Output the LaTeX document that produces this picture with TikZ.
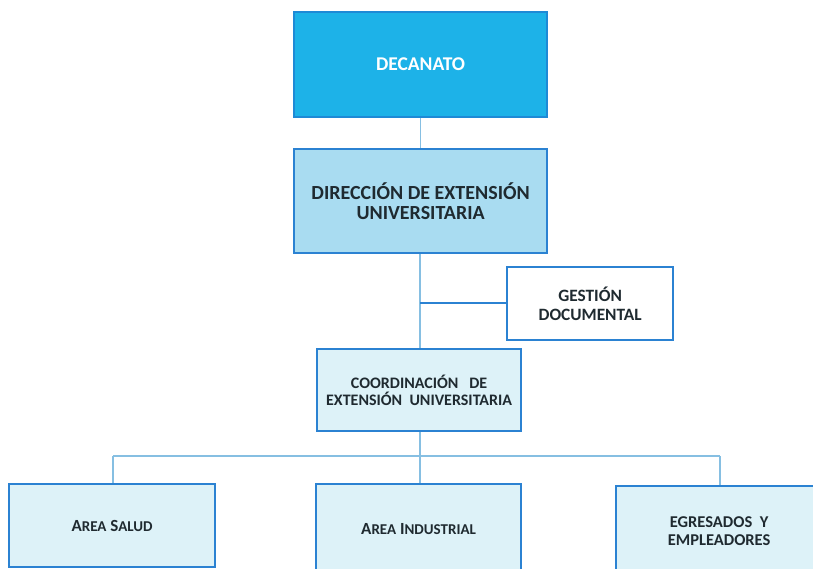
\documentclass[tikz,border=0pt]{standalone}
\usepackage{fontspec}
\setmainfont{Carlito}
\definecolor{topfill}{HTML}{1DB2E8}
\definecolor{topborder}{HTML}{1E8AD6}
\definecolor{midfill}{HTML}{A9DCF1}
\definecolor{boxborder}{HTML}{2B82D2}
\definecolor{lightfill}{HTML}{DDF2F8}
\definecolor{linecol}{HTML}{86BFE2}
\definecolor{txt}{HTML}{1F2A30}
\newcommand{\smc}[1]{{\fontsize{15}{18}\selectfont #1}}
\begin{document}
\begin{tikzpicture}[x=1pt,y=-1pt,
  orgbox/.style={draw=boxborder,line width=2.2pt,inner sep=0pt,anchor=north west,
    align=center,font=\bfseries,text=txt},
  conn/.style={draw=linecol,line width=1.4pt}]
\useasboundingbox (0,0) rectangle (813,568);
\begin{scope}
\clip (0,0) rectangle (813,568);
\node[orgbox,fill=topfill,draw=topborder,text=white,minimum width=253pt,minimum height=105pt,font=\bfseries\fontsize{19.5}{22}\selectfont] (dec) at (293,11) {DECANATO};
\node[orgbox,fill=midfill,minimum width=253pt,minimum height=104pt,font=\bfseries\fontsize{20}{20}\selectfont] (dir) at (293,148) {DIRECCIÓN DE EXTENSIÓN\\UNIVERSITARIA};
\node[orgbox,fill=white,minimum width=166pt,minimum height=73pt,font=\bfseries\fontsize{17.3}{18.5}\selectfont] (ges) at (506,266) {GESTIÓN\\DOCUMENTAL};
\node[orgbox,fill=lightfill,minimum width=204pt,minimum height=82pt,font=\bfseries\fontsize{16}{17.5}\selectfont] (coo) at (316,348) {COORDINACIÓN\ \ \ DE\\EXTENSIÓN\ \ UNIVERSITARIA};
\node[orgbox,fill=lightfill,minimum width=206pt,minimum height=83pt,font=\bfseries\fontsize{17}{18}\selectfont] (sal) at (8,483) {A\smc{REA} S\smc{ALUD}};
\node[orgbox,fill=lightfill,minimum width=205pt,minimum height=90pt,font=\bfseries\fontsize{17}{18}\selectfont] (ind) at (315,483) {A\smc{REA} I\smc{NDUSTRIAL}};
\node[orgbox,fill=lightfill,minimum width=206pt,minimum height=90pt,font=\bfseries\fontsize{16.5}{18}\selectfont] (egr) at (615,485) {EGRESADOS\ \ Y\\EMPLEADORES};
\end{scope}
\coordinate (j1) at (420,303);
\coordinate (hb) at (420,456);
\coordinate (hl) at (113,456);
\coordinate (hr) at (720,456);
\draw[conn] (dec.south) -- (dir.north);
\draw[conn] (dir.south -| hb) -- (coo.north -| hb);
\draw[draw=boxborder,line width=1.8pt] (j1) -- (ges.west |- j1);
\draw[conn] (coo.south -| hb) -- (hb);
\draw[conn] (hl) -- (hr);
\draw[conn] (hl) -- (sal.north -| hl);
\draw[conn] (hb) -- (ind.north -| hb);
\draw[conn] (hr) -- (egr.north -| hr);
\end{tikzpicture}
\end{document}
